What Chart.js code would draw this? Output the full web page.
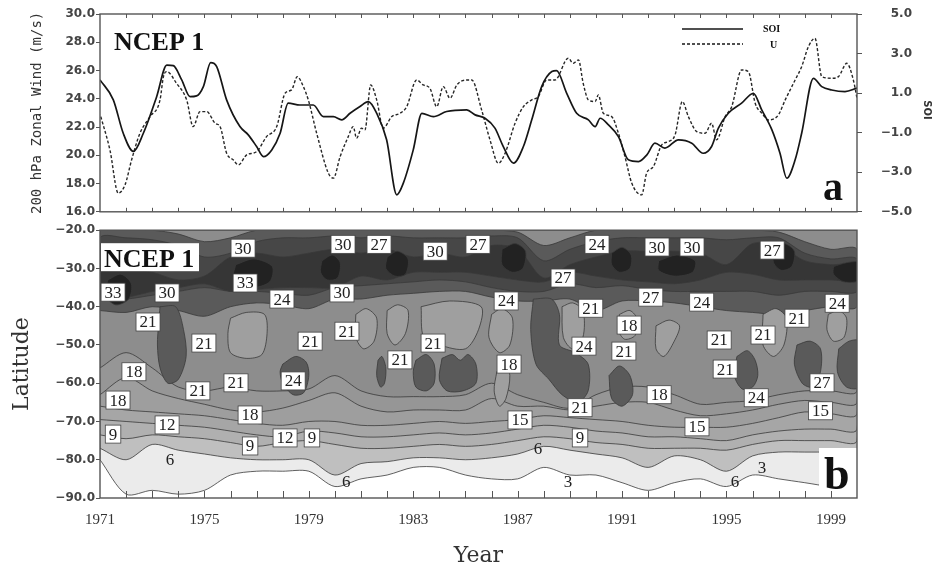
<!DOCTYPE html>
<html>
<head>
<meta charset="utf-8">
<script src="https://cdn.jsdelivr.net/npm/chart.js@4.4.1/dist/chart.umd.min.js"></script>
<style>
  body { margin: 0; background: #fff; width: 935px; height: 569px; overflow: hidden; position: relative; }
  #topChart { position: absolute; left: 0; top: 0; }
  #bottomChart { position: absolute; left: 0; top: 222px; }
</style>
</head>
<body>
<canvas id="topChart" width="935" height="222" style="width:935px;height:222px"></canvas>
<canvas id="bottomChart" width="935" height="347" style="width:935px;height:347px"></canvas>
<script>
// ---- panel a: SOI and 200 hPa zonal wind ----
const soiYears = [1971.00, 1971.51, 1971.89, 1972.28, 1972.66, 1973.17, 1973.56, 1973.81, 1974.13, 1974.45,
  1974.70, 1974.96, 1975.24, 1975.47, 1975.85, 1976.36, 1976.68, 1977.00, 1977.26, 1977.58,
  1977.90, 1978.21, 1978.66, 1979.17, 1979.56, 1979.94, 1980.26, 1980.58, 1980.96, 1981.28,
  1981.60, 1981.98, 1982.37, 1982.62, 1983.00, 1983.33, 1983.77, 1984.28, 1985.05, 1985.37,
  1985.75, 1986.13, 1986.45, 1986.84, 1987.22, 1987.54, 1987.92, 1988.31, 1988.49, 1988.88,
  1989.26, 1989.71, 1989.97, 1990.16, 1990.48, 1990.86, 1991.24, 1991.63, 1991.95, 1992.26,
  1992.64, 1993.16, 1993.67, 1994.11, 1994.43, 1994.69, 1995.07, 1995.58, 1996.03, 1996.35,
  1996.74, 1997.05, 1997.31, 1997.63, 1997.88, 1998.33, 1998.65, 1999.03, 1999.54, 2000.00]
const soiValues = [1.67, 0.66, -1.03, -1.95, -1.03, 0.82, 2.42, 2.39, 1.67, 0.82,
  0.86, 1.33, 2.54, 2.34, 0.66, -0.69, -1.11, -1.70, -2.21, -1.87,
  -1.03, 0.49, 0.40, 0.40, -0.19, -0.19, -0.35, -0.02, 0.32, 0.57,
  -0.02, -1.36, -4.14, -3.55, -1.87, -0.02, -0.19, 0.07, 0.15, -0.10,
  -0.27, -0.77, -1.70, -2.54, -1.70, -0.35, 1.33, 2.09, 2.14, 0.99,
  -0.02, -0.35, -0.69, -0.27, -0.61, -1.20, -2.37, -2.46, -2.12, -1.53,
  -1.78, -1.36, -1.53, -2.04, -1.70, -0.77, -0.02, 0.49, 0.99, 0.15,
  -0.86, -2.04, -3.30, -2.37, -1.03, 1.75, 1.33, 1.16, 1.08, 1.25]

const windYears = [1971.03, 1971.38, 1971.70, 1971.96, 1972.21, 1972.53, 1972.92, 1973.30, 1973.43, 1973.56,
  1973.93, 1974.32, 1974.57, 1974.83, 1975.09, 1975.41, 1975.60, 1975.85, 1976.11, 1976.30,
  1976.62, 1977.00, 1977.38, 1977.77, 1978.09, 1978.34, 1978.56, 1978.79, 1978.98, 1979.30,
  1979.75, 1979.94, 1980.20, 1980.51, 1980.70, 1980.83, 1981.02, 1981.15, 1981.37, 1981.60,
  1981.85, 1982.18, 1982.49, 1982.75, 1983.13, 1983.38, 1983.64, 1983.90, 1984.15, 1984.41,
  1984.67, 1985.05, 1985.24, 1985.62, 1985.94, 1986.26, 1986.52, 1986.90, 1987.22, 1987.54,
  1987.79, 1988.11, 1988.43, 1988.94, 1989.13, 1989.33, 1989.51, 1989.71, 1989.97, 1990.09,
  1990.28, 1990.60, 1990.86, 1991.11, 1991.37, 1991.75, 1991.94, 1992.20, 1992.52, 1992.77,
  1993.03, 1993.31, 1993.54, 1993.86, 1994.18, 1994.43, 1994.62, 1994.95, 1995.20, 1995.58,
  1995.84, 1996.10, 1996.35, 1996.61, 1996.99, 1997.25, 1997.63, 1997.88, 1998.14, 1998.39,
  1998.65, 1999.03, 1999.29, 1999.61, 1999.86, 2000.00]
const windValues = [22.74, 20.38, 17.32, 17.91, 19.67, 21.56, 22.74, 23.92, 25.57, 25.92,
  25.10, 23.92, 22.03, 23.09, 23.09, 22.27, 22.03, 20.15, 19.67, 19.32,
  20.03, 20.26, 21.32, 22.03, 24.39, 24.63, 25.57, 24.86, 23.92, 21.56,
  18.73, 18.38, 19.91, 21.32, 22.03, 21.21, 21.92, 21.80, 24.98, 23.92,
  21.92, 22.74, 22.97, 23.44, 25.33, 24.98, 24.74, 23.44, 24.86, 24.04,
  24.98, 25.33, 25.33, 23.21, 21.09, 19.44, 20.15, 22.27, 23.44, 23.92,
  24.15, 25.33, 25.33, 26.87, 26.51, 26.75, 25.10, 23.92, 23.80, 24.27,
  22.98, 22.74, 21.56, 19.91, 18.03, 17.20, 18.73, 19.20, 20.74, 20.97,
  21.44, 23.80, 22.74, 21.68, 21.56, 22.27, 21.09, 22.74, 23.44, 26.04,
  25.92, 23.68, 22.98, 22.50, 22.86, 23.92, 25.33, 26.27, 27.69, 28.28,
  25.57, 25.45, 25.57, 26.51, 25.33, 24.04]

// ---- panel b: zonal wind by latitude, contour edges read per year ----
const contourYears = [1971, 1972, 1973, 1974, 1975, 1976, 1977, 1978, 1979, 1980,
  1981, 1982, 1983, 1984, 1985, 1986, 1987, 1988, 1989, 1990,
  1991, 1992, 1993, 1994, 1995, 1996, 1997, 1998, 1999, 2000]
const contourLevels = [3, 6, 9, 12, 15, 18, 21, 24, 27, 30, 33]
const levelShades = ['#ebebeb', '#bfbfbf', '#b0b0b0', '#a6a6a6', '#9e9e9e', '#969696', '#8d8d8d', '#5a5a5a', '#474747', '#363636', '#222222']

const south3 = [-80, -89, -88, -89, -88, -84, -83, -83, -83, -87, -85, -84, -82, -82, -84, -85, -85, -82, -84, -84, -86, -88, -86, -85, -87, -84, -85, -86, -87, -87]
const south6 = [-77, -80, -76, -77.5, -78.5, -79.5, -80, -80, -80, -84, -81, -80.5, -79.5, -79.5, -80, -79.5, -78.5, -76.5, -77.5, -78.5, -79.5, -82, -79, -80, -83, -79, -78, -78, -78, -78]
const south9 = [-73.5, -74.5, -73.5, -74, -74.5, -75.5, -76.5, -75.5, -75, -76, -77, -77, -76.5, -76, -76.5, -76, -75, -74, -74.5, -75.5, -76, -77, -77, -77, -77.5, -76, -75, -75, -75, -75]
const south12 = [-69.5, -70, -70.5, -71, -71.5, -72.5, -73.5, -74, -72.5, -73, -74, -74, -73.5, -73, -73.5, -73, -72, -71, -71.5, -72.5, -73, -74, -74, -74.5, -75, -73.5, -72.5, -72, -72, -72]
const south15 = [-66, -67, -67.5, -68, -68.5, -69.5, -70.5, -71, -70, -70, -71, -71, -70.5, -70, -70.5, -70, -69.5, -68.5, -69, -69.5, -70, -71, -71.5, -71.5, -71.5, -70.5, -69, -67.5, -68, -68]
const south18 = [-63, -58.5, -62, -64, -65.5, -67, -67.5, -66.5, -64.5, -62.5, -66, -67.5, -67, -67, -67, -64, -66, -66, -67, -66, -65, -65, -67, -68.5, -68, -67, -65.5, -64.5, -65, -65]
const south21 = [-56, -52, -56, -61, -62, -61, -62, -62, -61.5, -58, -62, -63.5, -63.5, -63.5, -63, -60, -63, -65, -66.5, -63, -61, -61, -63, -65.5, -65, -64.5, -63, -62, -62, -62]
const south24 = [-41, -41.5, -40, -41, -42.5, -40, -39, -39.5, -40.5, -38, -38, -37, -36.5, -36, -36, -37.5, -38.5, -38.5, -38, -41, -38.5, -38.5, -39, -40, -41, -41.5, -42, -41, -40, -40]
const north24 = [-20, -20, -20, -21, -23, -22, -20, -20, -20, -20, -20, -20, -20, -20, -20, -20, -20.5, -24, -22, -20, -20, -20, -20, -20, -20, -20, -20.5, -23, -25, -25]
const south27 = [-38, -38, -37, -36, -35, -36, -36, -36.5, -37, -35, -34.5, -34, -33.5, -33, -33.5, -35, -36, -36, -34, -35, -34.5, -35.5, -36, -36, -36, -36, -37, -36, -36, -36]
const north27 = [-22, -22, -22.5, -24, -27, -26, -23, -22, -22, -21.5, -22, -21.5, -22, -22, -22, -21.5, -22, -28, -25, -23, -22, -22, -22, -22, -22.5, -22, -22, -26, -27.5, -27.5]
const south30 = [-37.5, -37.5, -36, -35, -34, -36, -35.5, -35, -35, -35, -32, -33, -31, -31, -31, -32, -33, -33.5, -31, -32, -33, -33.5, -34, -33, -31, -31.5, -33, -33, -33, -33]
const north30 = [-30, -30, -31, -33, -32, -27, -26, -27, -26, -25, -26, -25, -27, -26, -27, -24, -25, -32.5, -29, -27, -25.5, -25.5, -25.5, -26, -29, -23.5, -24, -28, -29, -29]

// closed patches: [year, latitude] outlines
const darkPatches = [
  [[1973.3, -40], [1973.9, -40], [1974.2, -46], [1974.3, -53], [1974.0, -59], [1973.6, -60], [1973.3, -56], [1973.2, -50], [1973.25, -44], [1973.3, -40]],
  [[1978.0, -55], [1978.5, -53], [1978.9, -54.5], [1979.0, -58], [1978.8, -62.5], [1978.4, -63], [1978.0, -60], [1977.9, -57], [1978.0, -55]],
  [[1981.65, -54], [1981.8, -53], [1981.95, -56], [1981.9, -60], [1981.75, -61], [1981.6, -58], [1981.65, -54]],
  [[1983.1, -54], [1983.5, -52.5], [1983.8, -55], [1983.8, -60], [1983.5, -62], [1983.1, -61], [1983.0, -57], [1983.1, -54]],
  [[1984.1, -53.5], [1984.5, -52.5], [1984.8, -54], [1985.1, -52.5], [1985.4, -55], [1985.4, -60], [1984.9, -62], [1984.3, -62], [1984.0, -59], [1984.1, -53.5]],
  [[1987.6, -38], [1988.3, -38], [1988.6, -42], [1988.6, -50], [1989.2, -52], [1989.7, -55], [1989.7, -62], [1989.3, -65], [1988.7, -63], [1988.2, -59], [1987.7, -55], [1987.5, -46], [1987.6, -38]],
  [[1990.5, -58], [1990.9, -55.5], [1991.3, -58], [1991.4, -63], [1991.0, -66], [1990.6, -64], [1990.5, -58]],
  [[1995.4, -53], [1995.8, -51.5], [1996.1, -54], [1996.2, -58], [1996.0, -61], [1995.6, -61.5], [1995.3, -58], [1995.4, -53]],
  [[1997.7, -50], [1998.2, -49], [1998.6, -51], [1998.6, -57], [1998.3, -61], [1997.9, -60], [1997.6, -55], [1997.7, -50]],
  [[1999.3, -51], [1999.7, -49], [2000.1, -49], [2000.1, -61], [1999.6, -61], [1999.25, -57], [1999.3, -51]],
]
const lightPatches = [
  [[1976.0, -43], [1976.6, -41.5], [1977.3, -42], [1977.4, -47], [1977.2, -52.5], [1976.6, -53.5], [1976.0, -52], [1975.9, -47], [1976.0, -43]],
  [[1980.8, -42], [1981.2, -40.5], [1981.6, -43], [1981.5, -49], [1981.1, -51], [1980.8, -48], [1980.8, -42]],
  [[1982.0, -41], [1982.4, -39.5], [1982.8, -41], [1982.7, -47], [1982.3, -50], [1982.0, -47], [1982.0, -41]],
  [[1983.3, -40], [1984.4, -38.5], [1985.6, -40], [1985.5, -46], [1985.0, -51], [1984.0, -50], [1983.4, -48], [1983.3, -40]],
  [[1986.0, -42], [1986.4, -40.5], [1986.8, -43], [1986.7, -50], [1986.3, -52], [1985.9, -48], [1986.0, -42]],
  [[1986.2, -57], [1986.5, -55], [1986.7, -58], [1986.55, -64], [1986.3, -66], [1986.1, -62], [1986.2, -57]],
  [[1988.7, -40], [1989.1, -39], [1989.5, -41], [1989.5, -48], [1989.1, -51], [1988.75, -48], [1988.7, -40]],
  [[1990.9, -42], [1991.3, -41], [1991.6, -43.5], [1991.5, -47.5], [1991.1, -48.5], [1990.85, -46], [1990.9, -42]],
  [[1992.3, -45], [1992.8, -43.5], [1993.2, -45], [1993.0, -49], [1992.6, -53], [1992.3, -51], [1992.3, -45]],
  [[1996.4, -42], [1996.9, -40.5], [1997.3, -43], [1997.2, -50], [1996.8, -53], [1996.4, -50], [1996.4, -42]],
  [[1998.9, -42], [1999.3, -41], [1999.6, -43], [1999.5, -48], [1999.1, -49], [1998.85, -46], [1998.9, -42]],
]
const corePatches = [
  [[1971.3, -33], [1971.8, -31.5], [1972.2, -34], [1972.1, -38], [1971.6, -39.5], [1971.2, -37], [1971.3, -33]],
  [[1976.2, -29], [1976.9, -27.5], [1977.6, -29.5], [1977.5, -33.5], [1976.8, -35], [1976.1, -33], [1976.2, -29]],
  [[1979.5, -28], [1979.9, -26.5], [1980.2, -28.5], [1980.1, -32.5], [1979.7, -33], [1979.45, -31], [1979.5, -28]],
  [[1982.0, -27], [1982.4, -25.5], [1982.8, -27.5], [1982.7, -31.5], [1982.3, -32], [1981.95, -30], [1982.0, -27]],
  [[1986.4, -25], [1986.9, -23.5], [1987.3, -25.5], [1987.2, -30], [1986.8, -31], [1986.4, -29], [1986.4, -25]],
  [[1990.6, -26], [1991.0, -24.5], [1991.35, -26.5], [1991.3, -30], [1990.9, -31], [1990.6, -29], [1990.6, -26]],
  [[1992.4, -28], [1993.1, -26.5], [1993.8, -28], [1993.7, -31], [1993.0, -32], [1992.4, -30.5], [1992.4, -28]],
  [[1996.8, -25], [1997.2, -23.5], [1997.6, -25.5], [1997.5, -29.5], [1997.1, -30.5], [1996.8, -28.5], [1996.8, -25]],
  [[1999.1, -29.5], [1999.6, -28.5], [2000.1, -28.5], [2000.1, -33], [1999.5, -33.5], [1999.1, -31.5], [1999.1, -29.5]],
]

// contour labels: [year, latitude, text]
const contourLabels = [
  [1976.48, -24.7, '30'], [1980.31, -23.7, '30'], [1981.69, -23.7, '27'], [1983.84, -25.5, '30'],
  [1985.48, -23.7, '27'], [1990.04, -23.7, '24'], [1992.34, -24.4, '30'], [1993.68, -24.4, '30'],
  [1996.75, -25.2, '27'], [1971.5, -36.2, '33'], [1973.57, -36.4, '30'], [1976.56, -33.8, '33'],
  [1977.97, -38, '24'], [1980.27, -36.4, '30'], [1986.56, -38.5, '24'], [1988.74, -32.5, '27'],
  [1992.1, -37.5, '27'], [1994.05, -38.8, '24'], [1999.24, -39.1, '24'], [1972.84, -44, '21'],
  [1974.98, -49.5, '21'], [1979.05, -49, '21'], [1980.46, -46.4, '21'], [1982.49, -53.9, '21'],
  [1983.76, -49.5, '21'], [1986.67, -55, '18'], [1989.8, -40.4, '21'], [1989.54, -50.3, '24'],
  [1991.07, -51.6, '21'], [1991.27, -44.8, '18'], [1994.72, -48.7, '21'], [1996.4, -47.4, '21'],
  [1997.7, -43, '21'], [1994.95, -56.3, '21'], [1996.14, -63.8, '24'], [1998.66, -59.9, '27'],
  [1998.6, -67.2, '15'], [1993.87, -71.4, '15'], [1992.42, -63, '18'], [1989.39, -66.4, '21'],
  [1987.09, -69.6, '15'], [1989.39, -74.3, '9'], [1987.78, -77.1, '6'], [1988.93, -85.7, '3'],
  [1980.43, -85.7, '6'], [1995.33, -85.6, '6'], [1996.36, -82, '3'], [1978.4, -59.4, '24'],
  [1976.21, -59.9, '21'], [1974.75, -62, '21'], [1972.3, -57, '18'], [1971.69, -64.4, '18'],
  [1976.75, -68.3, '18'], [1973.57, -70.9, '12'], [1978.09, -74.3, '12'], [1979.12, -74.3, '9'],
  [1976.75, -76.4, '9'], [1971.5, -73.3, '9'], [1973.68, -80, '6'],
]
const yearTicks = [1971, 1975, 1979, 1983, 1987, 1991, 1995, 1999]

const tickFont = { family: 'DejaVu Sans', size: 12, weight: 'bold' }

// box and inward year ticks, drawn on the scales
const framePlugin = {
  id: 'frame',
  afterDatasetsDraw(chart, args, opts) {
    const { ctx, chartArea: a } = chart
    const x = chart.scales.x
    ctx.save()
    ctx.strokeStyle = '#555'
    ctx.lineWidth = 1
    for (let yr = Math.ceil(x.min) + 1; yr < x.max; yr++) {
      const px = Math.round(x.getPixelForValue(yr)) + 0.5
      ctx.beginPath()
      if (opts.top) { ctx.moveTo(px, a.top); ctx.lineTo(px, a.top + opts.top) }
      if (opts.bottom) { ctx.moveTo(px, a.bottom); ctx.lineTo(px, a.bottom - opts.bottom) }
      ctx.stroke()
    }
    ctx.lineWidth = 1.4
    ctx.strokeRect(a.left, a.top, a.right - a.left, a.bottom - a.top)
    ctx.restore()
  }
}

// ---- top chart ----
new Chart(document.getElementById('topChart'), {
  type: 'line',
  data: {
    datasets: [
      {
        label: 'SOI',
        data: soiYears.map((x, i) => ({ x, y: soiValues[i] })),
        yAxisID: 'ySoi',
        borderColor: '#161616',
        borderWidth: 1.7,
        pointRadius: 0,
        cubicInterpolationMode: 'monotone',
      },
      {
        label: 'U',
        data: windYears.map((x, i) => ({ x, y: windValues[i] })),
        yAxisID: 'yWind',
        borderColor: '#262626',
        borderWidth: 1.4,
        borderDash: [3, 2],
        pointRadius: 0,
        cubicInterpolationMode: 'monotone',
      }
    ]
  },
  options: {
    responsive: false,
    animation: false,
    events: [],
    devicePixelRatio: 1,
    layout: { padding: { top: 14, right: 23, left: 0, bottom: 0 } },
    plugins: { legend: { display: false }, tooltip: { enabled: false }, frame: { top: 4, bottom: 4 } },
    scales: {
      x: {
        type: 'linear', min: 1971, max: 2000,
        grid: { display: false }, border: { display: false },
        ticks: { display: false },
        afterFit: s => { s.height = 10 }
      },
      yWind: {
        position: 'left', min: 16, max: 30,
        ticks: { stepSize: 2, callback: v => v.toFixed(1), font: tickFont, color: '#444', padding: 1 },
        grid: { drawOnChartArea: false, tickLength: 4, color: '#555' },
        border: { display: false },
        title: {
          display: true, text: '200 hPa Zonal Wind (m/s)', color: '#333',
          font: { family: 'DejaVu Sans Mono', size: 14 }, padding: { top: 29, bottom: 0 }
        },
        afterFit: s => { s.width = 100 }
      },
      ySoi: {
        position: 'right', min: -5, max: 5,
        ticks: {
          stepSize: 2, crossAlign: 'far', font: tickFont, color: '#444',
          callback: v => (v < 0 ? '\u2212' + Math.abs(v).toFixed(1) : v.toFixed(1))
        },
        grid: { drawOnChartArea: false, tickLength: 5, color: '#555' },
        border: { display: false },
        afterFit: s => { s.width = 55 }
      }
    }
  },
  plugins: [framePlugin, {
    id: 'panelA',
    afterDraw(chart) {
      const { ctx, chartArea: a } = chart
      ctx.save()
      ctx.fillStyle = '#111'
      ctx.font = 'bold 26px "Liberation Serif"'
      ctx.textBaseline = 'alphabetic'
      ctx.fillText('NCEP 1', a.left + 14, a.top + 36)
      ctx.font = 'bold 40px "Liberation Serif"'
      ctx.fillText('a', a.right - 34, a.bottom - 12)
      // legend
      ctx.strokeStyle = '#161616'
      ctx.lineWidth = 1.6
      ctx.beginPath(); ctx.moveTo(682, 29); ctx.lineTo(743, 29); ctx.stroke()
      ctx.lineWidth = 1.3
      ctx.setLineDash([3, 2])
      ctx.beginPath(); ctx.moveTo(682, 44); ctx.lineTo(743, 44); ctx.stroke()
      ctx.setLineDash([])
      ctx.font = 'bold 10px "Liberation Serif"'
      ctx.textBaseline = 'middle'
      ctx.fillText('SOI', 763, 29)
      ctx.fillText('U', 770, 45)
      // right axis title
      ctx.translate(927, 110)
      ctx.rotate(Math.PI / 2)
      ctx.textAlign = 'center'
      ctx.font = 'bold 10px "DejaVu Sans"'
      ctx.fillStyle = '#333'
      ctx.fillText('SOI', 0, 0)
      ctx.restore()
    }
  }]
})

// ---- bottom chart: filled contour layers ----
const TOP_EDGE = -19.5
function bandShape(south, north) {
  const pts = contourYears.map((x, i) => ({ x, y: south[i] }))
  for (let i = contourYears.length - 1; i >= 0; i--) {
    pts.push({ x: contourYears[i], y: north ? north[i] : TOP_EDGE })
  }
  pts.push(pts[0])
  return pts
}
function layer(data, color) {
  return {
    data, fill: 'shape', backgroundColor: color,
    borderColor: '#3a3a3a', borderWidth: 0.8, pointRadius: 0, tension: 0.3
  }
}
const bands = [
  [south3, null], [south6, null], [south9, null], [south12, null], [south15, null],
  [south18, null], [south21, null], [south24, north24], [south27, north27], [south30, north30]
]
const painted = bands.map(([s, n], i) => layer(bandShape(s, n), levelShades[i]))
darkPatches.forEach(p => painted.push(layer(p.map(([x, y]) => ({ x, y })), levelShades[contourLevels.indexOf(24)])))
lightPatches.forEach(p => painted.push(layer(p.map(([x, y]) => ({ x, y })), '#9f9f9f')))
corePatches.forEach(p => painted.push(layer(p.map(([x, y]) => ({ x, y })), levelShades[contourLevels.indexOf(33)])))
// Chart.js paints the last dataset first
const contourDatasets = painted.reverse()

new Chart(document.getElementById('bottomChart'), {
  type: 'line',
  data: { datasets: contourDatasets },
  options: {
    responsive: false,
    animation: false,
    events: [],
    devicePixelRatio: 1,
    layout: { padding: { top: 8, right: 78, left: 0, bottom: 0 } },
    plugins: { legend: { display: false }, tooltip: { enabled: false }, frame: { bottom: 7 } },
    scales: {
      x: {
        type: 'linear', min: 1971, max: 2000,
        afterBuildTicks: s => { s.ticks = yearTicks.map(value => ({ value })) },
        ticks: { font: { family: 'Liberation Serif', size: 15 }, color: '#333', padding: 13, callback: v => String(v) },
        grid: { display: true, drawOnChartArea: false, drawTicks: false },
        border: { display: false },
        title: {
          display: true, text: 'Year', color: '#333',
          font: { family: 'DejaVu Serif', size: 22 }, padding: { top: 0, bottom: 0 }
        },
        afterFit: s => { s.height = 71 }
      },
      y: {
        min: -90, max: -20,
        ticks: { stepSize: 10, font: tickFont, color: '#444', padding: 1, callback: v => '\u2212' + Math.abs(v).toFixed(1) },
        grid: { drawOnChartArea: false, tickLength: 4, color: '#555' },
        border: { display: false },
        title: {
          display: true, text: 'Latitude', color: '#333',
          font: { family: 'DejaVu Serif', size: 22 }, padding: { top: 9, bottom: 0 }
        },
        afterFit: s => { s.width = 100 }
      }
    }
  },
  plugins: [{
    id: 'contourLabels',
    afterDatasetsDraw(chart) {
      const { ctx, chartArea: a } = chart
      const x = chart.scales.x, y = chart.scales.y
      ctx.save()
      ctx.font = '17px "Liberation Serif"'
      ctx.textAlign = 'center'
      ctx.textBaseline = 'middle'
      contourLabels.forEach(([yr, lat, text]) => {
        const px = x.getPixelForValue(yr), py = y.getPixelForValue(lat)
        if (text !== '3' && text !== '6') {
          const w = ctx.measureText(text).width + 7
          ctx.fillStyle = '#fff'
          ctx.fillRect(px - w / 2, py - 9, w, 18)
          ctx.strokeStyle = '#444'
          ctx.lineWidth = 0.8
          ctx.strokeRect(px - w / 2, py - 9, w, 18)
        }
        ctx.fillStyle = '#222'
        ctx.fillText(text, px, py + 1)
      })
      // panel captions
      ctx.fillStyle = '#fff'
      ctx.fillRect(a.left + 1, a.top + 13, 98, 28)
      ctx.fillRect(a.right - 38, a.bottom - 50, 38, 50)
      ctx.fillStyle = '#111'
      ctx.textAlign = 'left'
      ctx.textBaseline = 'alphabetic'
      ctx.font = 'bold 26px "Liberation Serif"'
      ctx.fillText('NCEP 1', a.left + 4, a.top + 37)
      ctx.font = 'bold 46px "Liberation Serif"'
      ctx.fillText('b', a.right - 33, a.bottom - 9)
      ctx.restore()
    }
  }, framePlugin]
})
</script>
</body>
</html>
